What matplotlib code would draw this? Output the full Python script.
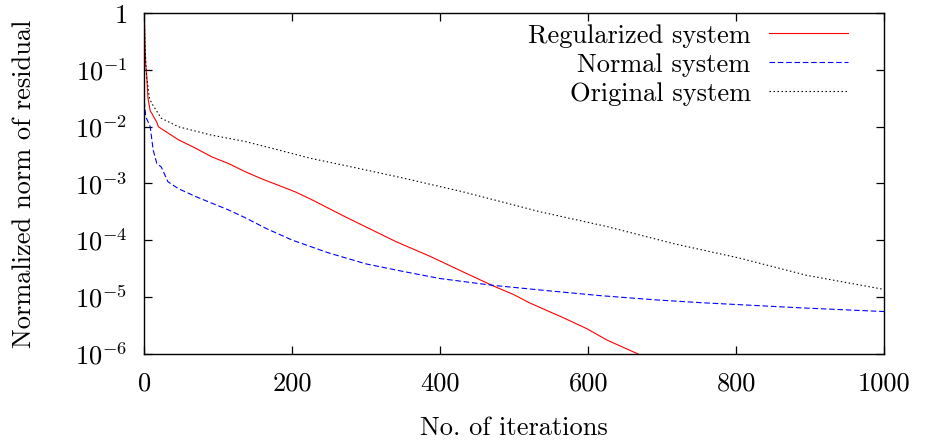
import numpy as np
import matplotlib
matplotlib.use('Agg')
import matplotlib.pyplot as plt
from matplotlib.ticker import FixedLocator, FixedFormatter, NullLocator

plt.rcParams['font.family'] = 'serif'
plt.rcParams['font.serif'] = ['cmr10', 'DejaVu Serif']
plt.rcParams['mathtext.fontset'] = 'cm'
plt.rcParams['axes.formatter.use_mathtext'] = True
plt.rcParams['axes.unicode_minus'] = False

# residual history of the three solvers
it_reg = [0, 1, 2, 3, 5, 8, 10, 14, 17, 19, 46, 69, 91, 114, 136, 159, 181, 204,
          226, 271, 296, 341, 386, 431, 472, 499, 521, 566, 598, 625, 666, 690]
res_reg = [1.0, 0.3, 0.12, 9.3e-2, 3.2e-2, 1.9e-2, 1.74e-2, 1.4e-2, 1.2e-2, 1.0e-2,
           5.9e-3, 4.2e-3, 2.95e-3, 2.24e-3, 1.62e-3, 1.2e-3, 9.3e-4, 7.1e-4,
           5.2e-4, 2.6e-4, 1.8e-4, 9.3e-5, 5.2e-5, 2.75e-5, 1.55e-5, 1.1e-5,
           7.8e-6, 4.3e-6, 2.75e-6, 1.74e-6, 1.0e-6, 7.0e-7]

it_nor = [0, 2, 5, 8, 12, 17, 23, 32, 46, 69, 91, 114, 136, 165, 200, 250, 300,
          350, 400, 470, 535, 616, 693, 751, 886, 1000]
res_nor = [2.8e-2, 1.5e-2, 1.23e-2, 1.0e-2, 3.9e-3, 2.24e-3, 1.95e-3, 1.07e-3,
           8.1e-4, 5.9e-4, 4.5e-4, 3.4e-4, 2.5e-4, 1.6e-4, 1.0e-4, 5.9e-5, 3.8e-5,
           2.8e-5, 2.1e-5, 1.6e-5, 1.32e-5, 1.05e-5, 8.8e-6, 7.9e-6, 6.4e-6, 5.5e-6]

it_ori = [0, 1, 3, 7, 10, 23, 46, 91, 136, 181, 226, 269, 341, 431, 535, 625,
          715, 805, 895, 1000]
res_ori = [1.0, 0.25, 8.0e-2, 3.2e-2, 2.6e-2, 1.41e-2, 1.0e-2, 7.1e-3, 5.5e-3,
           3.9e-3, 2.75e-3, 2.1e-3, 1.32e-3, 7.1e-4, 3.16e-4, 1.74e-4, 8.7e-5,
           4.8e-5, 2.4e-5, 1.35e-5]

ytick_vals = [1, 1e-1, 1e-2, 1e-3, 1e-4, 1e-5, 1e-6]
ytick_labels = ['1', r'$10^{-1}$', r'$10^{-2}$', r'$10^{-3}$', r'$10^{-4}$',
                r'$10^{-5}$', r'$10^{-6}$']
xtick_vals = [0, 200, 400, 600, 800, 1000]

fig = plt.figure(figsize=(9.26, 4.44), dpi=100)
ax = fig.add_axes([0.1558, 0.2038, 0.9547 - 0.1558, 0.9700 - 0.2038])

ax.plot(it_reg, res_reg, color='#ff0000', lw=0.8, label='Regularized system')
ax.plot(it_nor, res_nor, color='#0000ff', lw=0.8, dashes=(5, 2.5),
        label='Normal system')
ax.plot(it_ori, res_ori, color='black', lw=0.8, dashes=(1.3, 2.3),
        label='Original system')

ax.set_yscale('log')
ax.set_xlim(0, 1000)
ax.set_ylim(1e-6, 1)
ax.yaxis.set_major_locator(FixedLocator(ytick_vals))
ax.yaxis.set_major_formatter(FixedFormatter(ytick_labels))
ax.yaxis.set_minor_locator(NullLocator())
ax.set_xticks(xtick_vals)
ax.set_xticklabels([str(v) for v in xtick_vals])

ax.tick_params(direction='in', top=True, right=True, length=6, width=0.9,
               labelsize=19)
ax.tick_params(axis='x', pad=13)
ax.tick_params(axis='y', pad=12)
for sp in ax.spines.values():
    sp.set_linewidth(1.0)

ax.set_xlabel('No. of iterations', fontsize=19)
ax.set_ylabel('Normalized norm of residual', fontsize=19)
ax.xaxis.set_label_coords(0.5, -0.185)
ax.yaxis.set_label_coords(-0.147, 0.5)

leg = ax.legend(loc='upper right', bbox_to_anchor=(0.966, 1.0),
                frameon=False, markerfirst=False, fontsize=19,
                handlelength=3.0, handletextpad=0.7, labelspacing=0.2,
                borderaxespad=0)

fig.savefig('out.png', dpi=100)
